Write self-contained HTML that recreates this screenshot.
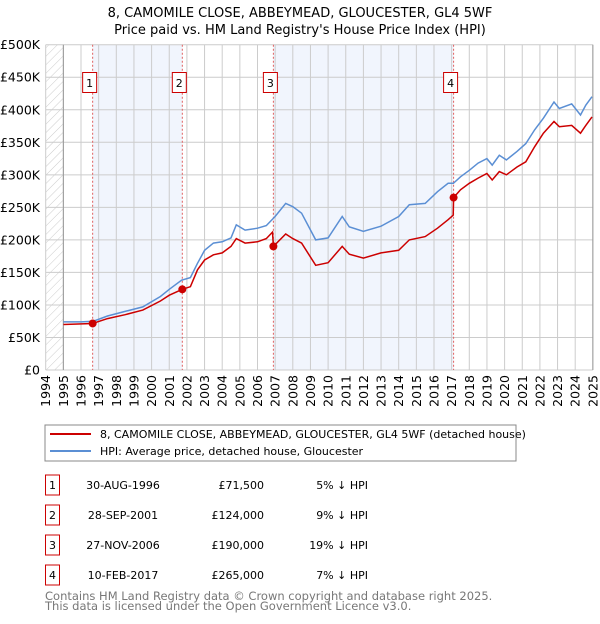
<!DOCTYPE html>
<html><head><meta charset="utf-8">
<style>
body{margin:0;background:#fff;width:600px;height:620px;overflow:hidden;font-family:"DejaVu Sans","Liberation Sans",sans-serif;}
svg text{font-family:"DejaVu Sans","Liberation Sans",sans-serif;}
</style></head>
<body>
<svg id="chart" width="600" height="620" xmlns="http://www.w3.org/2000/svg">
<defs>
<pattern id="hatch" patternUnits="userSpaceOnUse" width="6" height="6" patternTransform="rotate(45)">
<line x1="0" y1="0" x2="0" y2="6" stroke="#ccc" stroke-width="1"/>
</pattern>
</defs>
<text x="300" y="17" text-anchor="middle" font-size="13">8, CAMOMILE CLOSE, ABBEYMEAD, GLOUCESTER, GL4 5WF</text>
<text x="300" y="34" text-anchor="middle" font-size="13">Price paid vs. HM Land Registry's House Price Index (HPI)</text>
<g id="plot"></g>
<g>
<rect x="45" y="425" width="471" height="36" fill="#fff" stroke="#888"/>
<line x1="50" y1="434" x2="91" y2="434" stroke="#cc0000" stroke-width="2"/>
<text x="100" y="438" font-size="11">8, CAMOMILE CLOSE, ABBEYMEAD, GLOUCESTER, GL4 5WF (detached house)</text>
<line x1="50" y1="451" x2="91" y2="451" stroke="#5b8fd4" stroke-width="2"/>
<text x="100" y="455" font-size="11">HPI: Average price, detached house, Gloucester</text>
</g>
<g id="table" font-size="11"></g>
<text x="45" y="600" font-size="11.5" fill="#777">Contains HM Land Registry data © Crown copyright and database right 2025.</text>
<text x="45" y="610" font-size="11.5" fill="#777">This data is licensed under the Open Government Licence v3.0.</text>
</svg>
<script>
const hpiYears=[1995,1996,1996.7,1997.5,1998.5,1999.5,2000.5,2001,2001.7,2002.2,2002.6,2003,2003.5,2004,2004.5,2004.8,2005.3,2006,2006.5,2007,2007.6,2008,2008.5,2009.3,2010,2010.8,2011.2,2012,2013,2014,2014.6,2015.5,2016.2,2016.8,2017.1,2017.5,2018,2018.5,2019,2019.3,2019.7,2020.1,2020.7,2021.2,2021.7,2022.2,2022.8,2023.1,2023.8,2024.3,2024.6,2024.95];
const hpiValues=[74,74,75,83,90,97,113,124,138,142,164,184,195,197,203,223,215,218,222,236,256,251,241,200,203,236,220,213,221,236,254,256,274,287,287,297,307,318,325,315,330,323,336,348,369,387,412,402,409,392,407,420];
const ppYears=[1995,1996.66,1997.5,1998.5,1999.5,2000.5,2001,2001.74,2002.2,2002.6,2003,2003.5,2004,2004.5,2004.8,2005.3,2006,2006.5,2006.85,2006.9,2007.6,2008,2008.5,2009.3,2010,2010.8,2011.2,2012,2013,2014,2014.6,2015.5,2016.2,2016.8,2017.09,2017.11,2017.5,2018,2018.5,2019,2019.3,2019.7,2020.1,2020.7,2021.2,2021.7,2022.2,2022.8,2023.1,2023.8,2024.3,2024.6,2024.95];
const ppValues=[70,71.5,79,85,92,106,115,124,128,154,169,177,180,190,202,195,197,202,212,190,209,202,195,161,165,190,178,172,180,184,200,205,218,231,238,265,277,287,295,302,292,305,300,312,320,343,364,382,374,376,364,376,389];
const saleLabels=["1","2","3","4"];
const saleYears=[1996.66,2001.74,2006.9,2017.11];
const saleValues=[71.5,124,190,265];
const saleDates=["30-AUG-1996","28-SEP-2001","27-NOV-2006","10-FEB-2017"];
const salePrices=["£71,500","£124,000","£190,000","£265,000"];
const saleDiffs=["5% ↓ HPI","9% ↓ HPI","19% ↓ HPI","7% ↓ HPI"];
const yTicks=[0,50,100,150,200,250,300,350,400,450,500];
const yTickLabels=["£0","£50K","£100K","£150K","£200K","£250K","£300K","£350K","£400K","£450K","£500K"];
const xTicks=[1994,1995,1996,1997,1998,1999,2000,2001,2002,2003,2004,2005,2006,2007,2008,2009,2010,2011,2012,2013,2014,2015,2016,2017,2018,2019,2020,2021,2022,2023,2024,2025];

const X0=45.7,Y0=370,YT=44.7;
const xs=y=>X0+(y-1994)*17.65;
const ys=v=>Y0-v*(Y0-YT)/500;
const NS="http://www.w3.org/2000/svg";
const plot=document.getElementById('plot');
function mk(tag,attrs,parent){const e=document.createElementNS(NS,tag);for(const k in attrs)e.setAttribute(k,attrs[k]);(parent||plot).appendChild(e);return e;}

let b=mk('rect',{x:xs(1994),y:YT,width:xs(1995)-xs(1994),height:Y0-YT,fill:'url(#hatch)'});


for(let i=0;i<saleYears.length;i+=2){
  const end=i+1<saleYears.length?saleYears[i+1]:2025;
  const r=mk('rect',{x:xs(saleYears[i]),y:YT,width:xs(end)-xs(saleYears[i]),height:Y0-YT,fill:'#eef3fd',opacity:0.8});
  
  
}
xTicks.forEach(t=>{
  const l=mk('line',{x1:xs(t),x2:xs(t),y1:YT,y2:Y0,stroke:'#ccc','stroke-width':1});
  
  
  const tx=mk('text',{x:0,y:0,'font-size':12.5,'text-anchor':'end',transform:`translate(${xs(t)+4.5},${Y0+5}) rotate(-90)`});
  tx.textContent=t;
  
  
});
yTicks.forEach((t,i)=>{
  const l=mk('line',{x1:xs(1994),x2:xs(2025),y1:ys(t),y2:ys(t),stroke:'#ccc','stroke-width':1});
  
  
  const tx=mk('text',{x:40,y:ys(t)+4.5,'font-size':12.5,'text-anchor':'end'});
  tx.textContent=yTickLabels[i];
  
  
});
mk('line',{x1:xs(1995),x2:xs(1995),y1:YT,y2:Y0,stroke:'#999'});
mk('line',{x1:xs(2025),x2:xs(2025),y1:YT,y2:Y0,stroke:'#999'});
saleYears.forEach((s,i)=>{
  const l=mk('line',{x1:xs(s),x2:xs(s),y1:YT,y2:Y0,stroke:'#e06060','stroke-dasharray':'2,2','stroke-width':1});
  
  
  const g=mk('g',{});
  
  
  mk('rect',{x:xs(s)-10,y:72.5,width:14,height:20,fill:'#fff',stroke:'#cc0000'},g);
  const t=mk('text',{x:xs(s)-3,y:87,'font-size':11,'text-anchor':'middle'},g);
  t.textContent=saleLabels[i];
});
function path(xa,va){return xa.map((y,i)=>(i?'L':'M')+xs(y).toFixed(1)+','+ys(va[i]).toFixed(1)).join('');}
const hp=mk('path',{d:path(hpiYears,hpiValues),fill:'none',stroke:'#5b8fd4','stroke-width':1.5});


const pp=mk('path',{d:path(ppYears,ppValues),fill:'none',stroke:'#cc0000','stroke-width':1.5});


saleYears.forEach((s,i)=>{
  const c=mk('circle',{cx:xs(s),cy:ys(saleValues[i]),r:4,fill:'#cc0000'});
  
  
});
const tb=document.getElementById('table');
saleLabels.forEach((lab,i)=>{
  const cy=483+i*30;
  const g=mk('g',{},tb);
  
  
  mk('rect',{x:45.5,y:cy-8,width:14,height:20,fill:'#fff',stroke:'#cc0000'},g);
  let t=mk('text',{x:52.5,y:cy+6,'text-anchor':'middle'},g);t.textContent=lab;
  t=mk('text',{x:123,y:cy+6,'text-anchor':'middle'},g);t.textContent=saleDates[i];
  t=mk('text',{x:264,y:cy+6,'text-anchor':'end'},g);t.textContent=salePrices[i];
  t=mk('text',{x:368,y:cy+6,'text-anchor':'end'},g);t.textContent=saleDiffs[i];
});
</script>
</body></html>
